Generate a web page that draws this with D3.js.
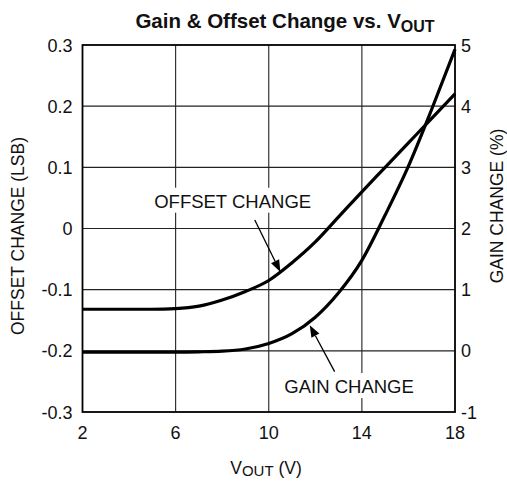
<!DOCTYPE html>
<html><head><meta charset="utf-8">
<script src="https://cdn.jsdelivr.net/npm/d3@7"></script>
<style>body{margin:0;background:#fff}svg{display:block;font-family:"Liberation Sans",Arial,sans-serif}</style>
</head><body><svg id="c" width="507" height="481"></svg>
<script>
const vout = [2,3,4,5,6,7,8,9,10,11,12,13,14,15,16,17,18];
const offsetChange = [-0.132,-0.132,-0.132,-0.132,-0.131,-0.127,-0.117,-0.103,-0.085,-0.056,-0.022,0.019,0.06,0.1,0.14,0.18,0.22];
const gainChange = [-0.02,-0.02,-0.02,-0.02,-0.02,-0.016,-0.006,0.03,0.12,0.28,0.55,0.95,1.48,2.22,3.02,3.95,4.93];
const xTicks = [2,6,10,14,18];
const offsetTicks = [-0.3,-0.2,-0.1,0,0.1,0.2,0.3];
const offsetTickLabels = ["-0.3","-0.2","-0.1","0","0.1","0.2","0.3"];
const gainTicks = [-1,0,1,2,3,4,5];

const svg = d3.select("#c");
const L=82.5, R=455, T=45, B=412;
const x = d3.scaleLinear().domain([2,18]).range([L,R]);
const yO = d3.scaleLinear().domain([-0.3,0.3]).range([B,T]);
const yG = d3.scaleLinear().domain([-1,5]).range([B,T]);
const fs = 17.5;

// grid
const g = svg.append("g");
g.selectAll("line.v").data(xTicks.slice(1,-1)).join("line")
  .attr("x1",d=>x(d)).attr("x2",d=>x(d)).attr("y1",T).attr("y2",B)
  .attr("stroke","#222").attr("stroke-width",1.1);
g.selectAll("line.h").data(offsetTicks.slice(1,-1)).join("line")
  .attr("x1",L).attr("x2",R).attr("y1",d=>yO(d)).attr("y2",d=>yO(d))
  .attr("stroke","#222").attr("stroke-width",1.1);

function label(txt, xv, yv, anchor){
  const t = svg.append("text").attr("x",x(xv)).attr("y",yO(yv)).attr("text-anchor",anchor)
    .attr("font-size",18.5).attr("fill","#111").text(txt);
  const bb = t.node().getBBox();
  svg.insert("rect","text").attr("x",bb.x-3).attr("y",bb.y-3).attr("width",bb.width+6).attr("height",bb.height+4).attr("fill","#fff");
  return t;
}

// curves
const line = d3.line().curve(d3.curveMonotoneX);
svg.append("path").attr("d", line(vout.map((v,i)=>[x(v), yO(offsetChange[i])])))
  .attr("fill","none").attr("stroke","#000").attr("stroke-width",3.2);
svg.append("path").attr("d", line(vout.map((v,i)=>[x(v), yG(gainChange[i])])))
  .attr("fill","none").attr("stroke","#000").attr("stroke-width",3.2);

// frame
svg.append("rect").attr("x",L).attr("y",T).attr("width",R-L).attr("height",B-T)
  .attr("fill","none").attr("stroke","#000").attr("stroke-width",1.8);

label("OFFSET CHANGE", 8.45, 0.034, "middle");
label("GAIN CHANGE", 13.45, -0.269, "middle");

// arrows
function arrow(x0,y0,x1,y1){
  const p0=[x(x0),yO(y0)], p1=[x(x1),yO(y1)];
  const dx=p1[0]-p0[0], dy=p1[1]-p0[1], len=Math.hypot(dx,dy), ux=dx/len, uy=dy/len;
  const hl=12, hw=4.5;
  const bx=p1[0]-ux*hl, by=p1[1]-uy*hl;
  svg.append("line").attr("x1",p0[0]).attr("y1",p0[1]).attr("x2",bx).attr("y2",by).attr("stroke","#000").attr("stroke-width",1.3);
  svg.append("path").attr("d",`M${p1[0]},${p1[1]}L${bx-uy*hw},${by+ux*hw}L${bx+uy*hw},${by-ux*hw}Z`).attr("fill","#000");
}
arrow(9.4,0.014,10.5,-0.071);
arrow(12.83,-0.234,11.76,-0.158);

// tick labels
svg.selectAll("text.xl").data(xTicks).join("text").attr("class","xl")
  .attr("x",d=>x(d)).attr("y",B+27).attr("text-anchor","middle").attr("font-size",18).attr("fill","#111").text(d=>d);
svg.selectAll("text.yl").data(offsetTicks).join("text").attr("class","yl")
  .attr("x",L-10).attr("y",d=>yO(d)+6.5).attr("text-anchor","end").attr("font-size",18).attr("fill","#111")
  .text((d,i)=>offsetTickLabels[i]);
svg.selectAll("text.gl").data(gainTicks).join("text").attr("class","gl")
  .attr("x",R+6).attr("y",d=>yG(d)+6.5).attr("text-anchor","start").attr("font-size",18).attr("fill","#111").text(d=>d);

// axis titles
svg.append("text").attr("transform",`translate(24,236) rotate(-90)`).attr("text-anchor","middle")
  .attr("font-size",fs).attr("fill","#111").text("OFFSET CHANGE (LSB)");
svg.append("text").attr("transform",`translate(503,206) rotate(-90)`).attr("text-anchor","middle")
  .attr("font-size",fs).attr("fill","#111").text("GAIN CHANGE (%)");
const xt = svg.append("text").attr("x",266).attr("y",474).attr("text-anchor","middle").attr("font-size",fs).attr("fill","#111");
xt.append("tspan").text("V");
xt.append("tspan").attr("font-size",15).attr("dy",1.5).text("OUT");
xt.append("tspan").attr("dy",-1.5).text(" (V)");

const tt = svg.append("text").attr("x",285).attr("y",28).attr("text-anchor","middle").attr("font-size",20.5).attr("font-weight","bold").attr("fill","#111");
tt.append("tspan").text("Gain & Offset Change vs. V");
tt.append("tspan").attr("font-size",16).attr("dy",4).text("OUT");
</script></body></html>
